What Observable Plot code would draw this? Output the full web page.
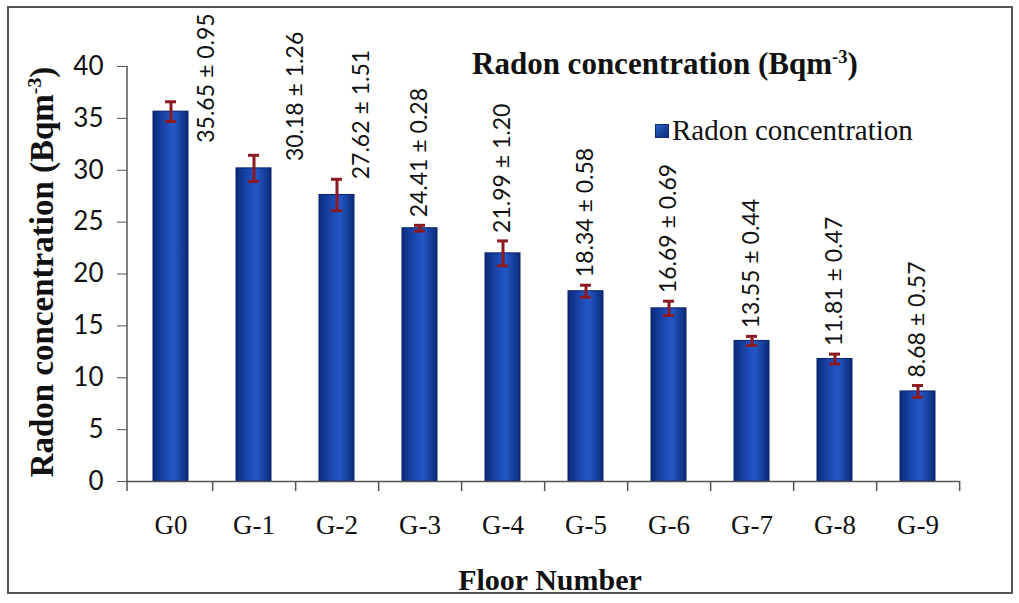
<!DOCTYPE html>
<html>
<head>
<meta charset="utf-8">
<script src="https://cdn.jsdelivr.net/npm/d3@7"></script>
<script src="https://cdn.jsdelivr.net/npm/@observablehq/plot@0.6"></script>
<style>
  html, body { margin: 0; padding: 0; background: #fff; }
  #wrap { position: relative; width: 1019px; height: 603px; overflow: hidden; }
  #frame { position: absolute; left: 7px; top: 6px; width: 1006px; height: 588px; border: 2px solid #555; box-sizing: border-box; pointer-events: none; }
  .serif { font-family: "Liberation Serif", "Times New Roman", serif; color: #111; position: absolute; white-space: nowrap; }
  #title { left: 472px; top: 46px; font-size: 31px; font-weight: bold; }
  #ylab { left: 42px; top: 272px; font-size: 33px; font-weight: bold; transform: translate(-50%, -50%) rotate(-90deg); }
  #xlab { left: 550px; top: 563px; font-size: 30px; font-weight: bold; transform: translateX(-50%); }
  #legend { left: 655px; top: 114px; font-size: 29px; display: flex; align-items: center; }
  #legend .sw { width: 12px; height: 12px; background: linear-gradient(135deg, #2a62c8, #0b2a78); margin-right: 3px; border: 1px solid #0b2a78; }
  #chart { position: absolute; left: 0; top: 0; }
  sup { font-size: 0.6em; }
</style>
</head>
<body>
<div id="wrap">
  <div id="chart"></div>
  <div id="title" class="serif">Radon concentration (Bqm<sup>-3</sup>)</div>
  <div id="ylab" class="serif">Radon concentration (Bqm<sup>-3</sup>)</div>
  <div id="xlab" class="serif">Floor Number</div>
  <div id="legend" class="serif"><span class="sw"></span>Radon concentration</div>
  <div id="frame"></div>
</div>
<script>
const floors = ["G0", "G-1", "G-2", "G-3", "G-4", "G-5", "G-6", "G-7", "G-8", "G-9"];
const radon  = [35.65, 30.18, 27.62, 24.41, 21.99, 18.34, 16.69, 13.55, 11.81, 8.68];
const errors = [0.95, 1.26, 1.51, 0.28, 1.20, 0.58, 0.69, 0.44, 0.47, 0.57];
const yTicks = [0, 5, 10, 15, 20, 25, 30, 35, 40];

const data = floors.map((f, i) => ({
  floor: f, value: radon[i], err: errors[i], i,
  label: `${radon[i].toFixed(2)} ± ${errors[i].toFixed(2)}`
}));

const W = 1019, H = 603;
const mL = 127, mR = 59, mT = 66, mB = 122;
const step = (W - mL - mR) / floors.length;
const pad = 0.58;
const bw = step * (1 - pad);
const capW = 11;

const labelFont = {fontFamily: "Lato, 'Open Sans', sans-serif", fontSize: 23, fill: "#111"};

function labels(filter, dx, dy, yOf) {
  return Plot.text(data.filter(filter), {
    x: "floor", y: yOf, text: "label", rotate: -90,
    textAnchor: "start", dx, dy, ...labelFont
  });
}

const plot = Plot.plot({
  width: W, height: H,
  marginLeft: mL, marginRight: mR, marginTop: mT, marginBottom: mB,
  style: {background: "transparent", overflow: "visible"},
  x: {domain: floors, paddingInner: pad, paddingOuter: pad / 2, label: null},
  y: {domain: [0, 40], label: null},
  marks: [
    Plot.axisY({ticks: yTicks, tickSize: 10, tickPadding: 14, fontSize: 26,
      fontFamily: "Lato, 'Open Sans', sans-serif", color: "#111", stroke: "#555", label: null}),
    Plot.axisX({tickSize: 0, tickPadding: 33, fontSize: 27,
      fontFamily: "'Liberation Serif', 'Times New Roman', serif", color: "#111", label: null}),
    Plot.barY(data, {x: "floor", y: "value", fill: "url(#barGrad)", stroke: "#0a2266", strokeWidth: 1}),
    Plot.ruleY([0], {stroke: "#555", strokeWidth: 1.5}),
    Plot.ruleX(floors, {x: d => d, y1: 0, y2: 0, insetTop: 10, dx: step / 2, stroke: "#555", strokeWidth: 1.5}),
    Plot.ruleX(data, {x: "floor", y1: d => d.value - d.err, y2: d => d.value + d.err, stroke: "#8b1a22", strokeWidth: 3}),
    Plot.tickY(data, {x: "floor", y: d => d.value + d.err, stroke: "#8b1a22", strokeWidth: 3,
      insetLeft: (bw - capW) / 2, insetRight: (bw - capW) / 2}),
    Plot.tickY(data, {x: "floor", y: d => d.value - d.err, stroke: "#8b1a22", strokeWidth: 3,
      insetLeft: (bw - capW) / 2, insetRight: (bw - capW) / 2}),
    labels(d => d.i === 0, 36, 0, d => d.value - 3),
    labels(d => d.i === 1, 42, 0, d => d.value + 0.7),
    labels(d => d.i === 2, 25, 0, d => d.value + d.err),
    labels(d => d.i >= 3, 0, -8, d => d.value + d.err)
  ]
});

// y-axis line
const svg = d3.select(plot);
svg.append("line").attr("x1", mL).attr("x2", mL).attr("y1", mT).attr("y2", H - mB + 10)
  .attr("stroke", "#555").attr("stroke-width", 1.5);

const defs = svg.insert("defs", ":first-child");
const g = defs.append("linearGradient").attr("id", "barGrad").attr("x1", "0").attr("x2", "1").attr("y1", "0").attr("y2", "0");
g.append("stop").attr("offset", "0%").attr("stop-color", "#0a2a7a");
g.append("stop").attr("offset", "45%").attr("stop-color", "#1f4fbd");
g.append("stop").attr("offset", "60%").attr("stop-color", "#2357c4");
g.append("stop").attr("offset", "100%").attr("stop-color", "#0b2a78");

document.getElementById("chart").appendChild(plot);
</script>
</body>
</html>
